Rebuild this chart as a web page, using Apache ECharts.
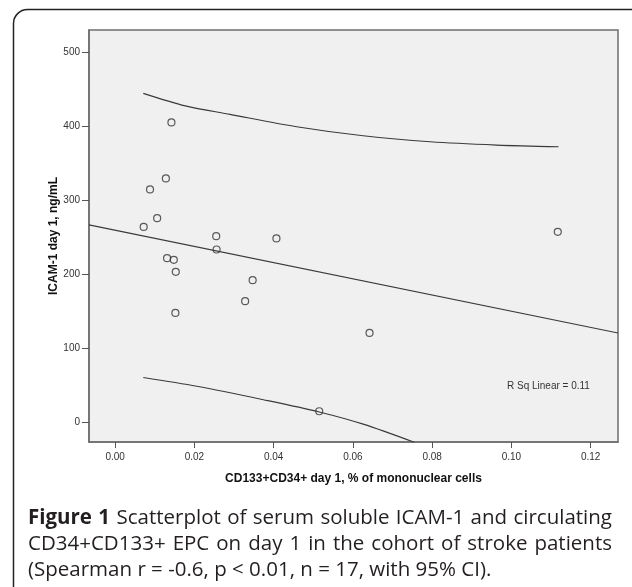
<!DOCTYPE html>
<html lang="en">
<head>
    <meta charset="UTF-8">
    <script type="text/javascript" src="https://cdn.jsdelivr.net/npm/echarts@6/dist/echarts.min.js"></script>
    <style>
        body { margin: 0; background: #fff; }
        #chart { width: 632px; height: 587px; }
    </style>
</head>
<body>
<div id="chart"></div>
<script type="text/javascript">
    // CD133+CD34+ day 1 (% of mononuclear cells) vs ICAM-1 day 1 (ng/mL)
    var cd133 = [0.0142, 0.0128, 0.0088, 0.0106, 0.0072, 0.0255, 0.0256, 0.0407, 0.0131,
        0.0148, 0.0153, 0.0347, 0.0328, 0.0152, 0.1117, 0.0515, 0.0642];
    var icam = [404.7, 329.1, 314.2, 275.5, 263.7, 251.2, 233.2, 248.1, 221.5,
        219.2, 203.0, 191.8, 163.4, 147.6, 257.0, 14.9, 120.6];

    // fit line and 95% CI curves
    var fitX = [-0.0066, 0.1269];
    var fitY = [266.4, 120.6];
    var upperX = [0.0071, 0.0177, 0.0290, 0.0458, 0.0626, 0.0795, 0.0963, 0.1119];
    var upperY = [443.9, 427.0, 415.5, 398.8, 386.6, 378.5, 374.1, 371.8];
    var lowerX = [0.0071, 0.0206, 0.0374, 0.0515, 0.0626, 0.0755];
    var lowerY = [60.4, 48.6, 30.5, 14.0, -2.5, -27.0];

    var xTicks = [0, 0.02, 0.04, 0.06, 0.08, 0.10, 0.12];
    var yTicks = [0, 100, 200, 300, 400, 500];

    var captionLines = [
        ['Figure 1', ' Scatterplot of serum soluble ICAM-1 and circulating'],
        ['', 'CD34+CD133+ EPC on day 1 in the cohort of stroke patients'],
        ['', '(Spearman r = -0.6, p < 0.01, n = 17, with 95% CI).']
    ];

    function pairs(xs, ys) {
        return xs.map(function (x, i) { return [x, ys[i]]; });
    }

    // lay out a caption line word by word so it can be justified
    var ctx = document.createElement('canvas').getContext('2d');
    var capFont = "'Open Sans', sans-serif";
    var capSize = 20.5;
    function captionGraphics() {
        var out = [];
        var left = 28, right = 612, lineY = [518, 544, 570];
        captionLines.forEach(function (ln, li) {
            var words = [];
            ln[0].split(' ').filter(Boolean).forEach(function (w) { words.push({t: w, b: true}); });
            ln[1].split(' ').filter(Boolean).forEach(function (w) { words.push({t: w, b: false}); });
            var total = 0;
            words.forEach(function (w) {
                ctx.font = (w.b ? 'bold ' : '') + capSize + 'px ' + capFont;
                w.w = ctx.measureText(w.t).width;
                total += w.w;
            });
            ctx.font = capSize + 'px ' + capFont;
            var space = ctx.measureText(' ').width;
            if (li < captionLines.length - 1) {
                space = Math.max(2, (right - left - total) / (words.length - 1));
            }
            var x = left;
            words.forEach(function (w) {
                out.push({
                    type: 'text', x: x, y: lineY[li],
                    style: {
                        text: w.t, fill: '#231f20', fontSize: capSize,
                        fontFamily: capFont, fontWeight: w.b ? 'bold' : 'normal',
                        verticalAlign: 'middle'
                    }
                });
                x += w.w + space;
            });
        });
        return out;
    }

    var chart = echarts.init(document.getElementById('chart'));
    var option = {
        animation: false,
        textStyle: {fontFamily: "'Liberation Sans', Arial, sans-serif"},
        grid: {
            left: 89, right: 14, top: 30, bottom: 145,
            show: true, backgroundColor: '#eff0ef', borderColor: '#6e6e6e', borderWidth: 1.5
        },
        xAxis: {
            type: 'value', min: -0.0066, max: 0.1269,
            name: 'CD133+CD34+ day 1, % of mononuclear cells',
            nameLocation: 'middle', nameGap: 31, nameMoveOverlap: false,
            nameTextStyle: {fontSize: 12, fontWeight: 'bold', color: '#111'},
            axisLine: {show: true, onZero: false, lineStyle: {color: '#6e6e6e', width: 1.5}},
            axisTick: {show: true, length: 6, customValues: xTicks, lineStyle: {color: '#555'}},
            axisLabel: {
                customValues: xTicks, fontSize: 10, color: '#333', margin: 10,
                formatter: function (v) { return v.toFixed(2); }
            },
            splitLine: {show: false}
        },
        yAxis: {
            type: 'value', min: -26.6, max: 529.4,
            name: 'ICAM-1 day 1, ng/mL',
            nameLocation: 'middle', nameGap: 29, nameRotate: 90, nameMoveOverlap: false,
            nameTextStyle: {fontSize: 12, fontWeight: 'bold', color: '#111'},
            axisLine: {show: true, onZero: false, lineStyle: {color: '#6e6e6e', width: 1.5}},
            axisTick: {show: true, length: 7, customValues: yTicks, lineStyle: {color: '#555'}},
            axisLabel: {customValues: yTicks, fontSize: 10, color: '#333', margin: 9},
            splitLine: {show: false}
        },
        series: [
            {
                type: 'line', data: pairs(fitX, fitY), showSymbol: false,
                lineStyle: {color: '#3a3a3a', width: 1.1}, silent: true
            },
            {
                type: 'line', data: pairs(upperX, upperY), showSymbol: false, smooth: 0.3,
                lineStyle: {color: '#3a3a3a', width: 1.1}, silent: true
            },
            {
                type: 'line', data: pairs(lowerX, lowerY), showSymbol: false, smooth: 0.3,
                lineStyle: {color: '#3a3a3a', width: 1.1}, silent: true, clip: true
            },
            {
                type: 'scatter', data: pairs(cd133, icam), symbol: 'circle', symbolSize: 7,
                itemStyle: {color: 'rgba(0,0,0,0)', borderColor: '#333', borderWidth: 1.2}
            }
        ],
        graphic: [
            {
                type: 'rect', shape: {x: 13.5, y: 9.5, width: 660, height: 640, r: 14},
                style: {fill: 'none', stroke: '#222', lineWidth: 1.5}, silent: true
            },
            {
                type: 'text', x: 507, y: 386,
                style: {
                    text: 'R Sq Linear = 0.11', fontSize: 10, fill: '#333',
                    fontFamily: "'Liberation Sans', Arial, sans-serif", verticalAlign: 'middle'
                }
            }
        ].concat(captionGraphics())
    };
    chart.setOption(option);
</script>
</body>
</html>
